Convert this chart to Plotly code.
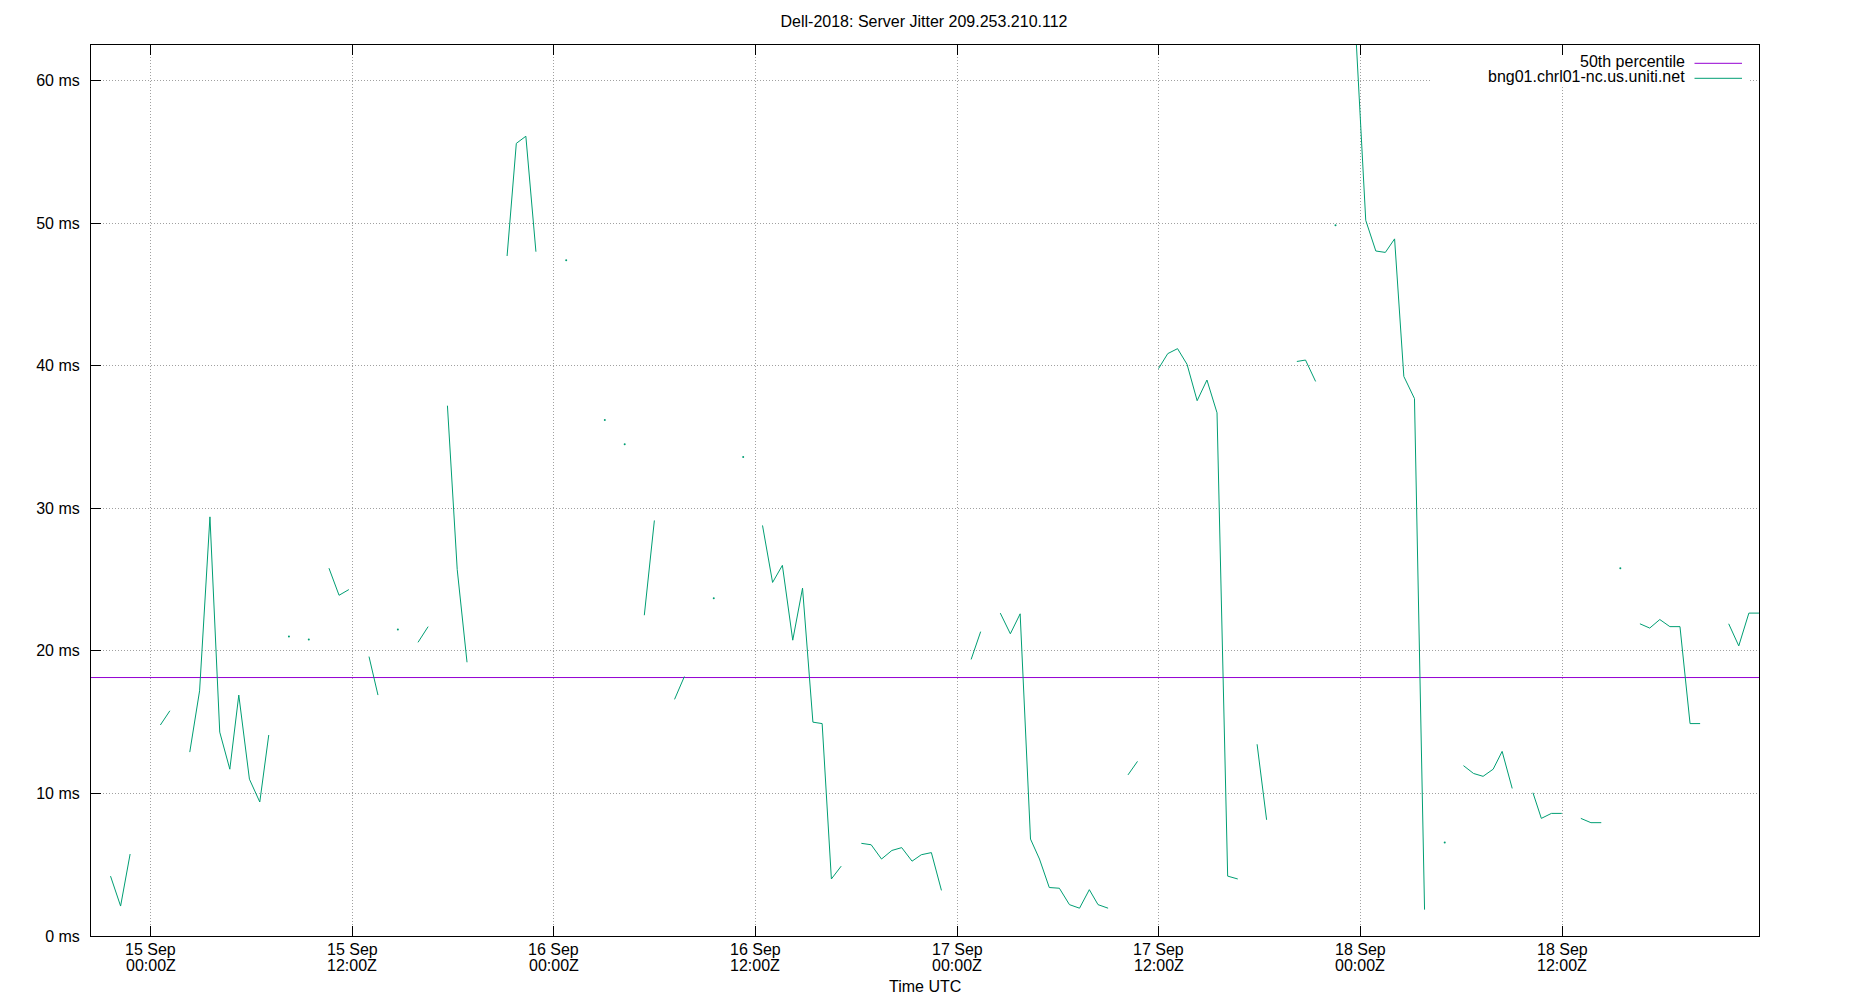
import plotly.graph_objects as go

title_text = "Dell-2018: Server Jitter 209.253.210.112"
series_name = "bng01.chrl01-nc.us.uniti.net"
median_name = "50th percentile"
median_ms = 18.13

# None marks a gap in the series (missing samples)
times = [
    "2018-09-14 21:37", "2018-09-14 22:13", "2018-09-14 22:47", None,
    "2018-09-15 00:35", "2018-09-15 01:09", None,
    "2018-09-15 02:20", "2018-09-15 02:55", "2018-09-15 03:32", "2018-09-15 04:07", "2018-09-15 04:43",
    "2018-09-15 05:15", "2018-09-15 05:53", "2018-09-15 06:30", "2018-09-15 07:02", None,
    "2018-09-15 08:14", None,
    "2018-09-15 09:25", None,
    "2018-09-15 10:37", "2018-09-15 11:13", "2018-09-15 11:48", None,
    "2018-09-15 13:00", "2018-09-15 13:32", None,
    "2018-09-15 14:43", None,
    "2018-09-15 15:55", "2018-09-15 16:31", None,
    "2018-09-15 17:40", "2018-09-15 18:15", "2018-09-15 18:50", None,
    "2018-09-15 21:13", "2018-09-15 21:46", "2018-09-15 22:20", "2018-09-15 22:56", None,
    "2018-09-16 00:44", None,
    "2018-09-16 03:02", None,
    "2018-09-16 04:13", None,
    "2018-09-16 05:23", "2018-09-16 05:59", None,
    "2018-09-16 07:11", "2018-09-16 07:46", None,
    "2018-09-16 09:31", None,
    "2018-09-16 11:16", None,
    "2018-09-16 12:25", "2018-09-16 13:01", "2018-09-16 13:36", "2018-09-16 14:13", "2018-09-16 14:48",
    "2018-09-16 15:25", "2018-09-16 15:58", "2018-09-16 16:31", "2018-09-16 17:06", None,
    "2018-09-16 18:18", "2018-09-16 18:53", "2018-09-16 19:30", "2018-09-16 20:07", "2018-09-16 20:42",
    "2018-09-16 21:19", "2018-09-16 21:52", "2018-09-16 22:28", "2018-09-16 23:04", None,
    "2018-09-17 00:50", "2018-09-17 01:24", None,
    "2018-09-17 02:34", "2018-09-17 03:10", "2018-09-17 03:45", "2018-09-17 04:22", "2018-09-17 04:54",
    "2018-09-17 05:29", "2018-09-17 06:05", "2018-09-17 06:41", "2018-09-17 07:17", "2018-09-17 07:52",
    "2018-09-17 08:23", "2018-09-17 08:59", None,
    "2018-09-17 10:10", "2018-09-17 10:44", None,
    "2018-09-17 11:59", "2018-09-17 12:32", "2018-09-17 13:07", "2018-09-17 13:41", "2018-09-17 14:17",
    "2018-09-17 14:52", "2018-09-17 15:28", "2018-09-17 16:06", "2018-09-17 16:42", None,
    "2018-09-17 17:51", "2018-09-17 18:25", None,
    "2018-09-17 20:13", "2018-09-17 20:44", "2018-09-17 21:20", None,
    "2018-09-17 22:31", None,
    "2018-09-17 23:43", "2018-09-18 00:19", "2018-09-18 00:55", "2018-09-18 01:29", "2018-09-18 02:02",
    "2018-09-18 02:35", "2018-09-18 03:13", "2018-09-18 03:49", None,
    "2018-09-18 05:01", None,
    "2018-09-18 06:08", "2018-09-18 06:44", "2018-09-18 07:18", "2018-09-18 07:54", "2018-09-18 08:26",
    "2018-09-18 09:02", None,
    "2018-09-18 10:16", "2018-09-18 10:46", "2018-09-18 11:22", "2018-09-18 11:59", None,
    "2018-09-18 13:07", "2018-09-18 13:43", "2018-09-18 14:20", None,
    "2018-09-18 15:28", None,
    "2018-09-18 16:38", "2018-09-18 17:13", "2018-09-18 17:49", "2018-09-18 18:25", "2018-09-18 19:01",
    "2018-09-18 19:37", "2018-09-18 20:13", None,
    "2018-09-18 21:55", "2018-09-18 22:31", "2018-09-18 23:07", "2018-09-18 23:43",
]

jitter_ms = [
    4.2, 2.1, 5.75, None,
    14.8, 15.8, None,
    12.9, 17.2, 29.4, 14.3, 11.7,
    16.9, 11.0, 9.4, 14.1, None,
    21.0, None,
    20.8, None,
    25.8, 23.9, 24.3, None,
    19.6, 16.9, None,
    21.5, None,
    20.6, 21.7, None,
    37.2, 25.7, 19.2, None,
    47.7, 55.6, 56.1, 48.0, None,
    47.4, None,
    36.2, None,
    34.5, None,
    22.5, 29.15, None,
    16.6, 18.2, None,
    23.7, None,
    33.6, None,
    28.8, 24.8, 26.0, 20.75, 24.4,
    15.0, 14.9, 4.0, 4.9, None,
    6.5, 6.4, 5.4, 6.0, 6.2,
    5.25, 5.7, 5.85, 3.2, None,
    19.4, 21.35, None,
    22.65, 21.2, 22.6, 6.8, 5.4,
    3.4, 3.35, 2.2, 1.95, 3.25,
    2.2, 1.95, None,
    11.3, 12.25, None,
    39.8, 40.85, 41.2, 40.1, 37.55,
    39.0, 36.7, 4.2, 4.0, None,
    13.45, 8.15, None,
    40.3, 40.4, 38.9, None,
    49.85, None,
    63.5, 50.2, 48.05, 47.95, 48.9,
    39.25, 37.7, 1.85, None,
    6.55, None,
    11.95, 11.4, 11.2, 11.7, 12.95,
    10.35, None,
    10.05, 8.25, 8.6, 8.6, None,
    8.25, 7.95, 7.95, None,
    25.8, None,
    21.9, 21.6, 22.2, 21.7, 21.7,
    14.9, 14.9, None,
    21.9, 20.35, 22.65, 22.65,
]

x_range = ["2018-09-14 20:27:18", "2018-09-18 23:43:12"]
y_range = [0, 62.5]
x_tick_times = ["2018-09-15 00:00", "2018-09-15 12:00", "2018-09-16 00:00", "2018-09-16 12:00",
                "2018-09-17 00:00", "2018-09-17 12:00", "2018-09-18 00:00", "2018-09-18 12:00"]
x_tick_day = ["15 Sep", "15 Sep", "16 Sep", "16 Sep", "17 Sep", "17 Sep", "18 Sep", "18 Sep"]
x_tick_hour = ["00:00Z", "12:00Z", "00:00Z", "12:00Z", "00:00Z", "12:00Z", "00:00Z", "12:00Z"]
y_tick_vals = [0, 10, 20, 30, 40, 50, 60]
y_tick_text = ["0 ms", "10 ms", "20 ms", "30 ms", "40 ms", "50 ms", "60 ms"]
x_title = "Time UTC"

assert len(times) == len(jitter_ms)

PURPLE = "#9400d3"
GREEN = "#009e73"
GRID = "#a0a0a0"
FONT = "Liberation Sans"

# isolated samples (no neighbours) are shown as tiny dots
iso_x, iso_y = [], []
n = len(jitter_ms)
for k, v in enumerate(jitter_ms):
    if v is None:
        continue
    prev_gap = k == 0 or jitter_ms[k - 1] is None
    next_gap = k == n - 1 or jitter_ms[k + 1] is None
    if prev_gap and next_gap:
        iso_x.append(times[k])
        iso_y.append(v)

fig = go.Figure()
fig.add_trace(go.Scatter(x=x_range, y=[median_ms, median_ms], mode="lines",
                         line=dict(color=PURPLE, width=1), name=median_name))
fig.add_trace(go.Scatter(x=times, y=jitter_ms, mode="lines", connectgaps=False,
                         line=dict(color=GREEN, width=1), name=series_name))
fig.add_trace(go.Scatter(x=iso_x, y=iso_y, mode="markers",
                         marker=dict(color=GREEN, size=2), name=series_name, showlegend=False))

annotations = []
for t, d, h in zip(x_tick_times, x_tick_day, x_tick_hour):
    annotations.append(dict(x=t, xref="x", y=0, yref="paper", text=d, showarrow=False,
                            xanchor="center", yanchor="top", yshift=-3,
                            font=dict(family=FONT, size=16, color="black")))
    annotations.append(dict(x=t, xref="x", y=0, yref="paper", text=h, showarrow=False,
                            xanchor="center", yanchor="top", yshift=-19,
                            font=dict(family=FONT, size=16, color="black")))
annotations.append(dict(x=0.5, xref="paper", y=0, yref="paper", text=x_title, showarrow=False,
                        xanchor="center", yanchor="top", yshift=-40,
                        font=dict(family=FONT, size=16, color="black")))
# legend (gnuplot style: text right-aligned, sample line on the right)
annotations.append(dict(x=1, xref="paper", y=1, yref="paper", text=median_name, showarrow=False,
                        xanchor="right", yanchor="top", xshift=-72, yshift=-5.5,
                        font=dict(family=FONT, size=16, color="black")))
annotations.append(dict(x=1, xref="paper", y=1, yref="paper", text=series_name, showarrow=False,
                        xanchor="right", yanchor="top", xshift=-72, yshift=-20.5,
                        font=dict(family=FONT, size=16, color="black")))

shapes = [
    dict(type="rect", layer="above", xref="paper", xsizemode="pixel", xanchor=1, x0=-327, x1=-11,
         yref="paper", ysizemode="pixel", yanchor=1, y0=-11, y1=-42,
         fillcolor="white", line=dict(width=0)),
    dict(type="line", layer="above", xref="paper", xsizemode="pixel", xanchor=1, x0=-64.5, x1=-17,
         yref="paper", ysizemode="pixel", yanchor=1, y0=-18.3, y1=-18.3,
         line=dict(color=PURPLE, width=1)),
    dict(type="line", layer="above", xref="paper", xsizemode="pixel", xanchor=1, x0=-64.5, x1=-17,
         yref="paper", ysizemode="pixel", yanchor=1, y0=-33.3, y1=-33.3,
         line=dict(color=GREEN, width=1)),
]

# the page body adds an 8px margin, so the figure is 8px smaller and margins compensate
fig.update_layout(
    width=1842, height=992,
    margin=dict(l=83, r=91, t=37, b=64),
    paper_bgcolor="white", plot_bgcolor="white",
    showlegend=False,
    font=dict(family=FONT, size=16, color="black"),
    title=dict(text=title_text, x=916 / 1842, xref="container", xanchor="center",
               y=1 - 7.5 / 992, yref="container", yanchor="top",
               font=dict(family=FONT, size=16, color="black")),
    annotations=annotations,
    shapes=shapes,
)
fig.update_xaxes(type="date", range=x_range, tickmode="array", tickvals=x_tick_times,
                 showticklabels=False, ticks="inside", ticklen=10, tickwidth=1, tickcolor="black",
                 showline=True, linecolor="black", linewidth=1, mirror="ticks",
                 showgrid=True, gridcolor=GRID, gridwidth=1, griddash="1px,2px", zeroline=False)
fig.update_yaxes(range=y_range, tickmode="array", tickvals=y_tick_vals, ticktext=y_tick_text,
                 ticks="inside", ticklen=10, tickwidth=1, tickcolor="black",
                 showline=True, linecolor="black", linewidth=1, mirror=True,
                 showgrid=True, gridcolor=GRID, gridwidth=1, griddash="1px,2px", zeroline=False,
                 ticklabelstandoff=7, tickfont=dict(family=FONT, size=16, color="black"))

fig.write_html("out.html")
